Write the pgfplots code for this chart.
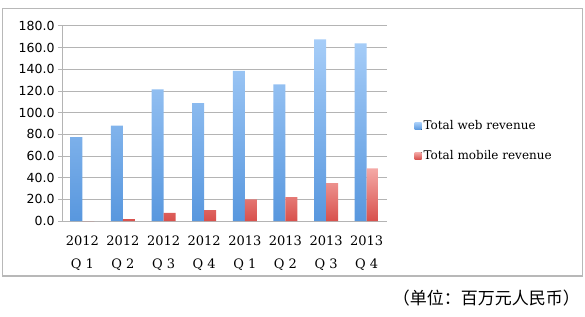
\documentclass[border=0pt]{standalone}
\usepackage{fontspec}
\setmainfont{DejaVu Serif}
\newfontfamily\ticksans{DejaVu Sans}
\newfontfamily\cjk{Noto Sans CJK SC}
\usepackage{pgfplots}
\pgfplotsset{compat=1.18}
\definecolor{gridc}{HTML}{B4B4B4}
\definecolor{frame}{HTML}{B8B8B8}
\definecolor{webtop}{HTML}{A6CDF8}
\definecolor{webbot}{HTML}{5897DE}
\definecolor{mobtop}{HTML}{F4A9A6}
\definecolor{mobbot}{HTML}{D8504C}
\begin{document}
\begin{tikzpicture}[x=1pt,y=1pt]
\path[use as bounding box] (0,0) rectangle (585,316);
\draw[frame, line width=1.5pt] (2.5,40) rectangle (582.5,307.5);
\begin{axis}[
  at={(62pt,95pt)}, anchor=south west,
  scale only axis, width=325pt, height=195pt,
  xmin=-0.5, xmax=7.5, ymin=0, ymax=180,
  ybar=0pt, bar width=12pt,
  axis x line*=bottom, axis y line*=left,
  axis line style={gridc, line width=1pt},
  ymajorgrids, grid style={gridc, line width=1pt},
  ytick={0,20,...,180},
  yticklabel style={font=\ticksans\fontsize{12.5}{14}\selectfont, text=black},
  /pgf/number format/.cd, fixed, fixed zerofill, precision=1, assume math mode=true,
  /pgfplots/.cd,
  xtick={0,...,7},
  xticklabels={{2012\\Q 1},{2012\\Q 2},{2012\\Q 3},{2012\\Q 4},{2013\\Q 1},{2013\\Q 2},{2013\\Q 3},{2013\\Q 4}},
  xticklabel style={align=center, font=\fontsize{13}{23}\selectfont, text=black, yshift=-7pt},
  minor xtick={-0.5,0.5,...,7.5},
  tick align=outside,
  major tick length=4pt,
  xtick style={draw=none},
  minor tick length=5pt,
  minor tick style={gridc, line width=1pt},
  ytick style={gridc, line width=1pt},
  legend style={draw=none, at={(axis description cs:1.075,0.535)}, anchor=north west,
    font=\fontsize{12}{14}\selectfont, row sep=15pt, cells={anchor=west}},
  legend image code/.code={\fill[#1] (0pt,-3.5pt) rectangle (7pt,3.5pt);},
]
\addplot[draw=none, top color=webtop, bottom color=webbot] coordinates {
  (0,77.5) (1,88.0) (2,121.6) (3,108.7) (4,138.5) (5,126.2) (6,167.7) (7,164.0)};
\addlegendentry{Total web revenue}
\addplot[draw=none, top color=mobtop, bottom color=mobbot] coordinates {
  (0,0) (1,1.8) (2,7.4) (3,10.1) (4,20.0) (5,22.1) (6,35.0) (7,48.6)};
\addlegendentry{Total mobile revenue}
\end{axis}
\node[anchor=east, inner sep=0pt, font=\cjk\fontsize{17}{19}\selectfont] at (580,18) {（单位：百万元人民币）};
\end{tikzpicture}
\end{document}
